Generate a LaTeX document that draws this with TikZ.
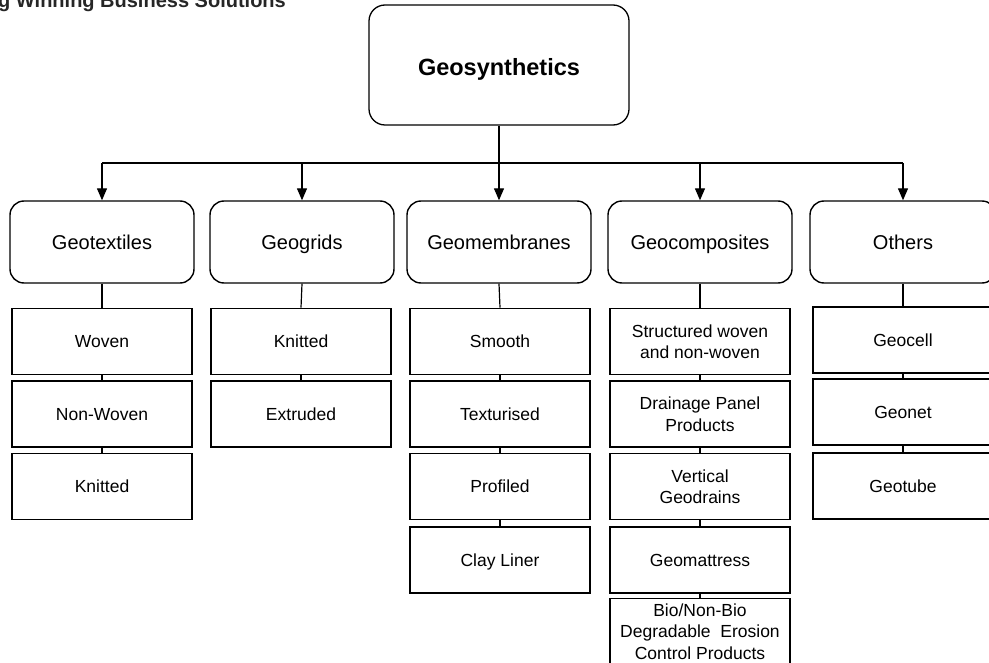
\documentclass[tikz,border=0pt]{standalone}
\usepackage{fontspec}
\setmainfont{Liberation Sans}
\usetikzlibrary{arrows.meta}
\begin{document}
\begin{tikzpicture}[x=1pt,y=-1pt,
  topbox/.style={draw, line width=1.3pt, rounded corners=16pt, minimum width=260pt, minimum height=120pt, inner sep=0pt, text height=20.8pt, text depth=0pt, font=\fontsize{23.5}{27}\selectfont\bfseries},
  catbox/.style={draw, line width=1.4pt, rounded corners=14pt, minimum width=184pt, minimum height=82pt, inner sep=0pt, text height=14.3pt, text depth=0pt, font=\fontsize{20}{24}\selectfont},
  subbase/.style={draw, line width=1.8pt, minimum width=180pt, minimum height=66pt, inner sep=0pt, align=center, font=\fontsize{17.5}{21.5}\selectfont},
  subbox/.style={subbase, text height=12.5pt, text depth=0pt},
  multibox/.style={subbase},
  conn/.style={line width=1.2pt},
  arr/.style={line width=1.3pt, -{Triangle[length=12pt,width=10pt]}}
]
\useasboundingbox (0,0) rectangle (989,663);
\clip (0,0) rectangle (989,663);

% header (cropped at top, as in the reference)
\node[anchor=base west, inner sep=0pt, font=\fontsize{20}{24}\selectfont\bfseries, text=black!85] (hdr) at (-2,8) {g Winning Business Solutions};

% root
\node[topbox] (g) at (499,65) {Geosynthetics};

% categories
\node[catbox] (c1) at (102,242) {Geotextiles};
\node[catbox] (c2) at (302,242) {Geogrids};
\node[catbox] (c3) at (499,242) {Geomembranes};
\node[catbox] (c4) at (700,242) {Geocomposites};
\node[catbox, minimum width=186pt] (c5) at (903,242) {Others};

% bus
\coordinate (b1) at (102,163);
\coordinate (b2) at (302,163);
\coordinate (b3) at (499,163);
\coordinate (b4) at (700,163);
\coordinate (b5) at (903,163);
\draw[conn] (g.south) -- (b3);
\draw[line width=1.5pt] (b1) -- (b5);
\foreach \i in {1,...,5} \draw[arr] (b\i) -- (c\i.north);

% column 1
\node[subbox] (s11) at (102,341.5) {Woven};
\node[subbox] (s12) at (102,414) {Non-Woven};
\node[subbox] (s13) at (102,486.5) {Knitted};
% column 2
\node[subbox] (s21) at (301,341.5) {Knitted};
\node[subbox] (s22) at (301,414) {Extruded};
% column 3
\node[subbox] (s31) at (500,341.5) {Smooth};
\node[subbox] (s32) at (500,414) {Texturised};
\node[subbox] (s33) at (500,486.5) {Profiled};
\node[subbox] (s34) at (500,560) {Clay Liner};
% column 4
\node[multibox] (s41) at (700,341.5) {Structured woven\\and non-woven};
\node[multibox] (s42) at (700,414) {Drainage Panel\\Products};
\node[multibox] (s43) at (700,486.5) {Vertical\\Geodrains};
\node[subbox] (s44) at (700,560) {Geomattress};
\node[multibox] (s45) at (700,631.5) {Bio/Non-Bio\\Degradable\ \ Erosion\\Control Products};
% column 5
\node[subbox] (s51) at (903,340) {Geocell};
\node[subbox] (s52) at (903,412) {Geonet};
\node[subbox] (s53) at (903,486) {Geotube};

% connectors
\draw[conn] (c1.south) -- (s11.north);
\draw[conn] (s11.south) -- (s12.north);
\draw[conn] (s12.south) -- (s13.north);
\draw[conn] (c2.south) -- (s21.north);
\draw[conn] (s21.south) -- (s22.north);
\draw[conn] (c3.south) -- (s31.north);
\draw[conn] (s31.south) -- (s32.north);
\draw[conn] (s32.south) -- (s33.north);
\draw[conn] (s33.south) -- (s34.north);
\draw[line width=1.6pt] (c4.south) -- (s41.north);
\draw[conn] (s41.south) -- (s42.north);
\draw[conn] (s42.south) -- (s43.north);
\draw[conn] (s43.south) -- (s44.north);
\draw[conn] (s44.south) -- (s45.north);
\draw[conn] (c5.south) -- (s51.north);
\draw[conn] (s51.south) -- (s52.north);
\draw[conn] (s52.south) -- (s53.north);
\end{tikzpicture}
\end{document}
